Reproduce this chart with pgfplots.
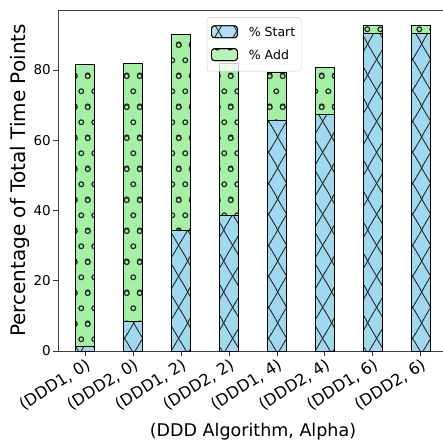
\documentclass[border=0pt]{standalone}
\usepackage{pgfplots}
\pgfplotsset{compat=1.18}
\usepackage{fontspec}
\setmainfont{DejaVu Sans}
\usetikzlibrary{patterns.meta}
\definecolor{startcol}{RGB}{159,216,239}
\definecolor{addcol}{RGB}{166,240,166}
\tikzdeclarepattern{
  name=bigx,
  type=uncolored,
  bounding box={(0pt,0pt) and (18.4pt,30.7pt)},
  tile size={(18.4pt,30.7pt)},
  code={
    \foreach \i in {-1,0,1}{\foreach \j in {-1,0,1}{
      \draw[line width=0.9pt] ({6.9pt+\i*18.4pt},{29.15pt+\j*30.7pt}) -- ++(18.4pt,30.7pt);
      \draw[line width=0.9pt] ({6.9pt+\i*18.4pt},{29.15pt+\j*30.7pt+30.7pt}) -- ++(18.4pt,-30.7pt);
    }}
  }
}
\tikzdeclarepattern{
  name=circs,
  type=uncolored,
  bounding box={(0pt,0pt) and (12.9pt,30.6pt)},
  tile size={(12.9pt,30.6pt)},
  code={
    \foreach \i in {-1,0,1}{\foreach \j in {-1,0,1}{
      \draw[line width=1.2pt] ({4.3pt+\i*12.9pt},{13.9pt+\j*30.6pt}) circle[radius=2.4pt];
      \draw[line width=1.2pt] ({10.75pt+\i*12.9pt},{29.2pt+\j*30.6pt}) circle[radius=2.4pt];
    }}
  }
}
\pgfplotstableread{
x start add
0 1.2 80.3
1 8.5 73.3
2 34.2 56.0
3 38.5 43.5
4 65.6 13.7
5 67.4 13.4
6 90.5 2.2
7 90.5 2.2
}\datatable
\begin{document}
\begin{tikzpicture}
\begin{axis}[
  name=ax,
  at={(0pt,0pt)}, anchor=south west,
  scale only axis,
  width=390pt, height=341pt,
  xmin=-0.57, xmax=7.57,
  ymin=0, ymax=97.1,
  ybar stacked, bar width=0.4,
  xtick={0,...,7},
  xticklabels={{(DDD1, 0)},{(DDD2, 0)},{(DDD1, 2)},{(DDD2, 2)},{(DDD1, 4)},{(DDD2, 4)},{(DDD1, 6)},{(DDD2, 6)}},
  ytick={0,20,40,60,80},
  tick align=outside,
  xtick pos=lower, ytick pos=left,
  major tick length=5pt,
  every tick/.style={black!80, line width=0.8pt},
  axis line style={black!75, line width=0.9pt},
  /pgf/number format/assume math mode=true,
  yticklabel style={font=\fontsize{13.5}{16}\selectfont, inner sep=2pt},
  xticklabel style={font=\fontsize{16}{19}\selectfont, rotate=32, anchor=north east, inner sep=1pt},
  xlabel={(DDD Algorithm, Alpha)},
  ylabel={Percentage of Total Time Points},
  xlabel style={font=\fontsize{17.5}{20}\selectfont, yshift=-6pt},
  ylabel style={font=\fontsize{20}{23}\selectfont, yshift=-2pt},
  legend style={at={(0.503,0.979)}, anchor=north, draw=black!20, fill=white, fill opacity=0.8, text opacity=1, rounded corners=3pt, font=\fontsize{12.5}{15}\selectfont, cells={anchor=west}, row sep=8pt, inner xsep=4pt, inner ysep=8pt, /tikz/every odd column/.append style={column sep=9pt}},
  legend image code/.code={\draw[#1] (0pt,-5pt) rectangle (26pt,7pt);},
]
\addplot[fill=startcol, draw=black, line width=0.8pt, postaction={pattern=bigx, pattern color=black!85}] table[x=x, y=start] {\datatable};
\addplot[fill=addcol, draw=black, line width=0.8pt, postaction={pattern=circs, pattern color=black!85}] table[x=x, y=add] {\datatable};
\legend{\% Start, \% Add}
\end{axis}
\pgfresetboundingbox
\path (-58pt,-93pt) rectangle (384pt,351pt);
\end{tikzpicture}
\end{document}
